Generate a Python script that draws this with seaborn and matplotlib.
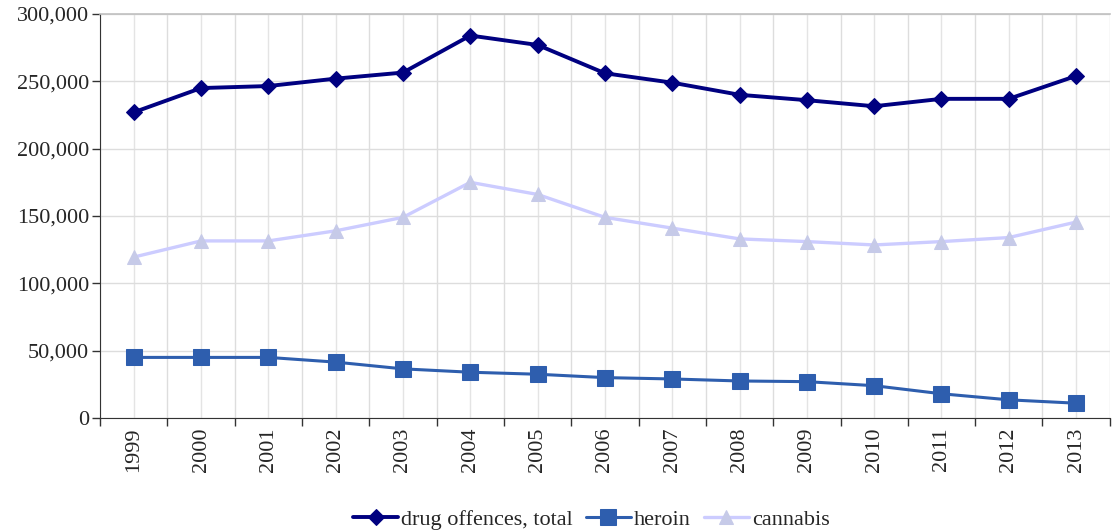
import matplotlib.pyplot as plt
import matplotlib.ticker as mticker
import seaborn as sns
import pandas as pd

years = list(range(1999, 2014))
total = [227000, 245000, 246500, 252000, 256500, 284000, 277000, 256000,
         249000, 240000, 236000, 231500, 237000, 237000, 254000]
heroin = [45000, 45000, 45000, 41500, 36500, 34000, 32500, 30000,
          29000, 27500, 27000, 24000, 18000, 13500, 11000]
cannabis = [119500, 131500, 131500, 139000, 149000, 175000, 166000, 149000,
            141000, 133000, 131000, 128500, 131000, 134000, 145500]

df = pd.DataFrame({"year": years, "total": total, "heroin": heroin, "cannabis": cannabis})

sns.set_style("white")
plt.rcParams["font.family"] = ["Liberation Serif", "DejaVu Serif"]

fig = plt.figure(figsize=(11.12, 5.30), dpi=100)
ax = fig.add_axes([0.09, 0.2113, 0.908, 0.7623])

# series: column, label, line colour, marker, marker size, marker colour, line width
series = [
    ("total", "drug offences, total", "#000080", "D", 8, "#000080", 2.8),
    ("heroin", "heroin", "#2E5EAE", "s", 11.5, "#2E5EAE", 2.2),
    ("cannabis", "cannabis", "#CCCCFF", "^", 10.5, "#C6CAE8", 2.4),
]
for col, label, color, marker, ms, mc, lw in series:
    sns.lineplot(data=df, x="year", y=col, ax=ax, color=color, marker=marker,
                 markersize=ms, markerfacecolor=mc, markeredgecolor=mc,
                 linewidth=lw, label=label, legend=False)

ax.set_xlim(1998.5, 2013.5)
ax.set_ylim(0, 300000)
ax.set_xlabel("")
ax.set_ylabel("")

# ticks at category boundaries, labels at centers
ax.set_xticks([y - 0.5 for y in years] + [2013.5])
ax.set_xticklabels([])
ax.set_xticks(years, minor=True)
ax.set_xticklabels([str(y) for y in years], minor=True, rotation=90, fontsize=16)
ax.tick_params(axis="x", which="major", direction="out", length=6, width=1, color="#333333")
ax.tick_params(axis="x", which="minor", length=0, pad=7)

ax.set_yticks(range(0, 300001, 50000))
ax.yaxis.set_major_formatter(mticker.FuncFormatter(lambda v, p: f"{int(v):,}"))
ax.tick_params(axis="y", direction="out", length=6, width=1, color="#333333", labelsize=16, pad=2)
ax.tick_params(axis="both", bottom=True, left=True)

ax.grid(True, which="major", color="#DDDDDD", linewidth=1)
ax.grid(True, which="minor", axis="x", color="#E4E4E4", linewidth=1)
ax.set_axisbelow(True)

ax.spines["right"].set_visible(False)
ax.spines["top"].set_color("#C0C0C0")
ax.spines["top"].set_linewidth(1.2)
ax.spines["left"].set_color("#333333")
ax.spines["bottom"].set_color("#333333")

handles, labels = ax.get_legend_handles_labels()
fig.legend(handles, labels, loc="lower center", bbox_to_anchor=(0.532, -0.037),
           ncol=3, frameon=False, fontsize=16, handlelength=2.0,
           handletextpad=0.15, columnspacing=0.6)

fig.savefig("out.png", dpi=100)
